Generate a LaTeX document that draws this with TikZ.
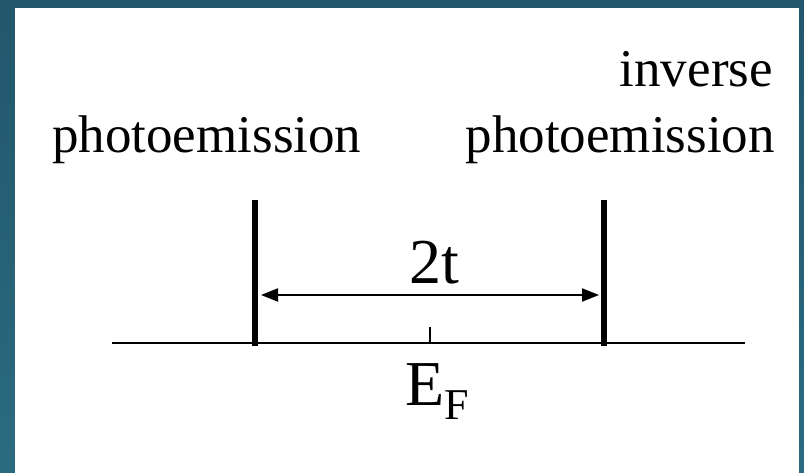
\documentclass[tikz,border=0pt]{standalone}
\usepackage{fontspec}
\setmainfont{Liberation Serif}
\usetikzlibrary{positioning,calc,arrows.meta}
\newcommand{\labfont}{\fontsize{53}{65}\selectfont}
\newcommand{\bigfont}{\fontsize{64}{70}\selectfont}
\newcommand{\subfont}{\fontsize{44}{44}\selectfont}
\newcommand{\barw}{6pt}
\newcommand{\axisw}{2.5pt}
\newcommand{\barx}{255}
\newcommand{\barxb}{604}
\newcommand{\bartop}{200}
\newcommand{\axisy}{343}
\definecolor{frametop}{RGB}{34,86,107}
\definecolor{framebot}{RGB}{43,107,128}

\begin{document}
\begin{tikzpicture}[x=1pt, y=-1pt]

  %%%%%%%%%%% frame
  \shade [top color=frametop, bottom color=framebot] (0,0) rectangle (804,472);
  \fill [white] (15,8) rectangle (799,474);
  \useasboundingbox (0,0) rectangle (804,472);

  % photoemission (left)
  \node [inner sep=0pt,
  anchor=base west] (pe) at (52,152) {\labfont photoemission};

  % inverse photoemission (right)
  \node [inner sep=0pt,
  anchor=base east] (ipe) at (775,152) {\labfont photoemission};
  \node [inner sep=0pt,
  anchor=base east] (inv) at (773,86) {\labfont inverse};

  % energy axis
  \coordinate (axl) at (112,\axisy);
  \coordinate (axr) at (745,\axisy);
  \draw [line width=\axisw] (axl) -- (axr);

  % Fermi level tick
  \coordinate (ef) at (430,\axisy);
  \coordinate (eftop) at (430,327);
  \draw [line width=2pt] (ef) -- (eftop);
  \node [inner sep=0pt,
  anchor=base west] (eflab) at (405,405) {\bigfont E\raisebox{-14pt}{\subfont F}};

  % left edge
  \coordinate (la) at (\barx,\bartop);
  \coordinate (lb) at (\barx,346);
  \draw [line width=\barw] (la) -- (lb);

  % right edge
  \coordinate (ra) at (\barxb,\bartop);
  \coordinate (rb) at (\barxb,346);
  \draw [line width=\barw] (ra) -- (rb);

  % gap arrow
  \coordinate (gl) at (261,295);
  \coordinate (gr) at (599,295);
  \draw [line width=2pt,
  {Triangle[length=17pt,width=13pt]}-{Triangle[length=17pt,width=13pt]}] (gl) -- (gr);
  \node [inner sep=0pt,
  anchor=base] (gap) at (434,283) {\bigfont 2t};

\end{tikzpicture}
\end{document}
